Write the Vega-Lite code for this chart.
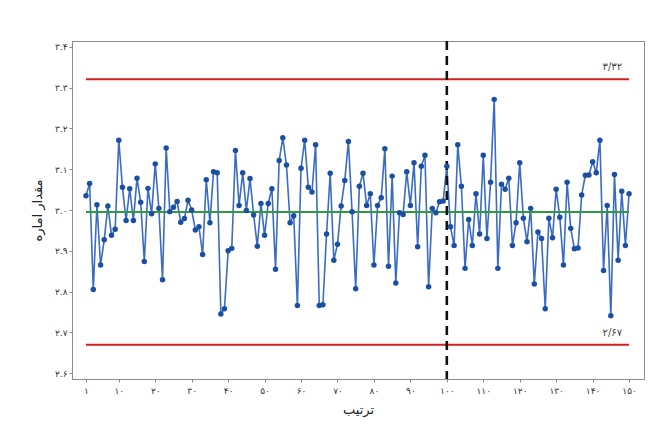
{
  "$schema": "https://vega.github.io/schema/vega-lite/v6.json",
  "autosize": "none",
  "padding": {"left": 72, "top": 41, "right": 19, "bottom": 58},
  "width": 572,
  "height": 338,
  "background": "white",
  "config": {
    "view": {"stroke": "#8c8c8c", "strokeWidth": 1},
    "font": "DejaVu Sans",
    "axis": {"grid": false, "domainColor": "#8c8c8c", "tickColor": "#8c8c8c", "tickSize": 3, "labelColor": "#333333", "labelFontSize": 9, "titleColor": "#222222", "titleFontSize": 13, "titleFontWeight": "normal"}
  },
  "datasets": {
    "obs": [
      {"i":1,"v":3.035},{"i":2,"v":3.065},{"i":3,"v":2.805},{"i":4,"v":3.013},{"i":5,"v":2.865},
      {"i":6,"v":2.927},{"i":7,"v":3.010},{"i":8,"v":2.938},{"i":9,"v":2.953},{"i":10,"v":3.171},
      {"i":11,"v":3.056},{"i":12,"v":2.974},{"i":13,"v":3.052},{"i":14,"v":2.974},{"i":15,"v":3.078},
      {"i":16,"v":3.019},{"i":17,"v":2.874},{"i":18,"v":3.053},{"i":19,"v":2.991},{"i":20,"v":3.113},
      {"i":21,"v":3.004},{"i":22,"v":2.829},{"i":23,"v":3.152},{"i":24,"v":2.996},{"i":25,"v":3.007},
      {"i":26,"v":3.021},{"i":27,"v":2.970},{"i":28,"v":2.979},{"i":29,"v":3.024},{"i":30,"v":3.000},
      {"i":31,"v":2.951},{"i":32,"v":2.959},{"i":33,"v":2.891},{"i":34,"v":3.074},{"i":35,"v":2.969},
      {"i":36,"v":3.094},{"i":37,"v":3.091},{"i":38,"v":2.745},{"i":39,"v":2.758},{"i":40,"v":2.900},
      {"i":41,"v":2.906},{"i":42,"v":3.146},{"i":43,"v":3.011},{"i":44,"v":3.091},{"i":45,"v":2.999},
      {"i":46,"v":3.077},{"i":47,"v":2.988},{"i":48,"v":2.911},{"i":49,"v":3.016},{"i":50,"v":2.938},
      {"i":51,"v":3.016},{"i":52,"v":3.052},{"i":53,"v":2.855},{"i":54,"v":3.121},{"i":55,"v":3.177},
      {"i":56,"v":3.110},{"i":57,"v":2.969},{"i":58,"v":2.986},{"i":59,"v":2.766},{"i":60,"v":3.102},
      {"i":61,"v":3.171},{"i":62,"v":3.056},{"i":63,"v":3.044},{"i":64,"v":3.160},{"i":65,"v":2.766},
      {"i":66,"v":2.768},{"i":67,"v":2.941},{"i":68,"v":3.090},{"i":69,"v":2.877},{"i":70,"v":2.916},
      {"i":71,"v":3.010},{"i":72,"v":3.072},{"i":73,"v":3.168},{"i":74,"v":2.996},{"i":75,"v":2.807},
      {"i":76,"v":3.058},{"i":77,"v":3.090},{"i":78,"v":3.011},{"i":79,"v":3.040},{"i":80,"v":2.865},
      {"i":81,"v":3.011},{"i":82,"v":3.030},{"i":83,"v":3.150},{"i":84,"v":2.862},{"i":85,"v":3.083},
      {"i":86,"v":2.821},{"i":87,"v":2.993},{"i":88,"v":2.989},{"i":89,"v":3.094},{"i":90,"v":3.011},
      {"i":91,"v":3.116},{"i":92,"v":2.910},{"i":93,"v":3.107},{"i":94,"v":3.134},{"i":95,"v":2.812},
      {"i":96,"v":3.004},{"i":97,"v":2.993},{"i":98,"v":3.020},{"i":99,"v":3.022},{"i":100,"v":3.107},
      {"i":101,"v":2.959},{"i":102,"v":2.913},{"i":103,"v":3.160},{"i":104,"v":3.058},{"i":105,"v":2.857},
      {"i":106,"v":2.977},{"i":107,"v":2.913},{"i":108,"v":3.040},{"i":109,"v":2.941},{"i":110,"v":3.134},
      {"i":111,"v":2.930},{"i":112,"v":3.068},{"i":113,"v":3.271},{"i":114,"v":2.857},{"i":115,"v":3.063},
      {"i":116,"v":3.051},{"i":117,"v":3.078},{"i":118,"v":2.913},{"i":119,"v":2.969},{"i":120,"v":3.116},
      {"i":121,"v":2.980},{"i":122,"v":2.922},{"i":123,"v":3.004},{"i":124,"v":2.819},{"i":125,"v":2.946},
      {"i":126,"v":2.930},{"i":127,"v":2.758},{"i":128,"v":2.980},{"i":129,"v":2.932},{"i":130,"v":3.051},
      {"i":131,"v":2.982},{"i":132,"v":2.865},{"i":133,"v":3.068},{"i":134,"v":2.955},{"i":135,"v":2.905},
      {"i":136,"v":2.907},{"i":137,"v":3.037},{"i":138,"v":3.085},{"i":139,"v":3.086},{"i":140,"v":3.118},
      {"i":141,"v":3.091},{"i":142,"v":3.171},{"i":143,"v":2.852},{"i":144,"v":3.011},{"i":145,"v":2.741},
      {"i":146,"v":3.087},{"i":147,"v":2.877},{"i":148,"v":3.046},{"i":149,"v":2.913},{"i":150,"v":3.040}
    ],
    "limits": [
      {"name":"UCL","value":3.32,"start":1,"end":150,"label":"۳/۳۲"},
      {"name":"CL","value":2.995,"start":1,"end":150,"label":""},
      {"name":"LCL","value":2.67,"start":1,"end":150,"label":"۲/۶۷"}
    ],
    "phase": [{"x":100}]
  },
  "layer": [
    {
      "data": {"name": "obs"},
      "mark": {"type": "line", "color": "#3a6cc4", "strokeWidth": 1.6},
      "encoding": {
        "x": {"field": "i", "type": "quantitative", "scale": {"domain": [-2.84, 154.1], "nice": false, "zero": false},
          "axis": {"values": [1,10,20,30,40,50,60,70,80,90,100,110,120,130,140,150], "tickCount": 30, "labelOverlap": false, "labelBound": false, "labelFlush": false, "title": "ترتیب", "titlePadding": 8, "labelPadding": 4,
            "labelExpr": "replace(replace(replace(replace(replace(replace(replace(replace(replace(replace(format(datum.value,'d'),regexp('0','g'),'۰'),regexp('1','g'),'۱'),regexp('2','g'),'۲'),regexp('3','g'),'۳'),regexp('4','g'),'۴'),regexp('5','g'),'۵'),regexp('6','g'),'۶'),regexp('7','g'),'۷'),regexp('8','g'),'۸'),regexp('9','g'),'۹')"}},
        "y": {"field": "v", "type": "quantitative", "scale": {"domain": [2.586, 3.414], "nice": false, "zero": false},
          "axis": {"values": [2.6,2.7,2.8,2.9,3.0,3.1,3.2,3.3,3.4], "tickCount": 20, "labelOverlap": false, "labelBound": false, "labelFlush": false, "title": "مقدار اماره", "titlePadding": 10, "labelPadding": 2,
            "labelExpr": "replace(replace(replace(replace(replace(replace(replace(replace(replace(replace(format(datum.value,'.1f'),regexp('0','g'),'۰'),regexp('1','g'),'۱'),regexp('2','g'),'۲'),regexp('3','g'),'۳'),regexp('4','g'),'۴'),regexp('5','g'),'۵'),regexp('6','g'),'۶'),regexp('7','g'),'۷'),regexp('8','g'),'۸'),regexp('9','g'),'۹')"}}
      }
    },
    {
      "data": {"name": "limits"},
      "mark": {"type": "rule", "strokeWidth": 2},
      "encoding": {
        "x": {"field": "start", "type": "quantitative"},
        "x2": {"field": "end"},
        "y": {"field": "value", "type": "quantitative"},
        "color": {"field": "name", "type": "nominal", "scale": {"domain": ["UCL","CL","LCL"], "range": ["#d11f1f","#2e9a3a","#d11f1f"]}, "legend": null},
        "strokeWidth": {"field": "name", "type": "nominal", "scale": {"domain": ["UCL","CL","LCL"], "range": [2.2,1.4,2.2]}, "legend": null}
      }
    },
    {
      "data": {"name": "limits"},
      "mark": {"type": "text", "align": "right", "baseline": "middle", "dx": -7, "dy": -12, "fontSize": 10, "color": "#444444"},
      "encoding": {
        "x": {"field": "end", "type": "quantitative"},
        "y": {"field": "value", "type": "quantitative"},
        "text": {"field": "label"}
      }
    },
    {
      "data": {"name": "phase"},
      "mark": {"type": "rule", "color": "#111111", "strokeWidth": 2.6, "strokeDash": [9, 6]},
      "encoding": {"x": {"field": "x", "type": "quantitative"}}
    },
    {
      "data": {"name": "obs"},
      "mark": {"type": "point", "filled": true, "color": "#1b4fa3", "size": 30, "opacity": 1},
      "encoding": {
        "x": {"field": "i", "type": "quantitative"},
        "y": {"field": "v", "type": "quantitative"}
      }
    }
  ]
}
